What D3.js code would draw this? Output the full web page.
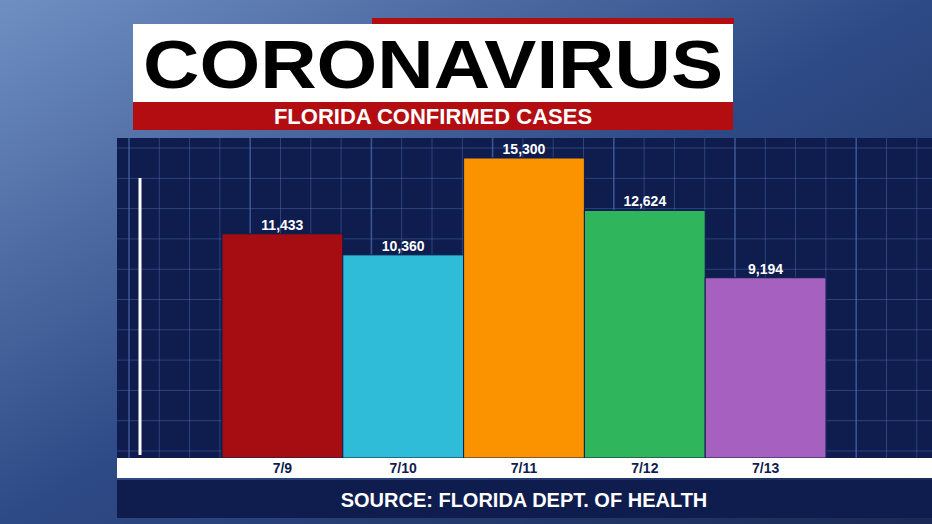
<!DOCTYPE html>
<html><head><meta charset="utf-8">
<script src="https://cdn.jsdelivr.net/npm/d3@7"></script>
<style>body{margin:0;overflow:hidden;background:#2a3f6e}</style>
</head><body>
<script>
const dates = ["7/9", "7/10", "7/11", "7/12", "7/13"];
const cases = [11433, 10360, 15300, 12624, 9194];
const colors = ["#a50d12", "#2fbcd8", "#fb9300", "#2fb55c", "#a660bf"];

const W = 932, H = 524;
const svg = d3.select("body").append("svg").attr("width", W).attr("height", H);
const defs = svg.append("defs");
const bg = defs.append("linearGradient").attr("id", "bg").attr("x1", 0).attr("y1", 0).attr("x2", 1).attr("y2", 1);
bg.append("stop").attr("offset", 0).attr("stop-color", "#6f8fc2");
bg.append("stop").attr("offset", 0.5).attr("stop-color", "#2e4a86");
bg.append("stop").attr("offset", 1).attr("stop-color", "#1a2a55");
svg.append("rect").attr("width", W).attr("height", H).attr("fill", "url(#bg)");

// title block
svg.append("rect").attr("x", 372).attr("y", 18).attr("width", 362).attr("height", 6).attr("fill", "#b30d12");
svg.append("rect").attr("x", 133).attr("y", 24).attr("width", 600).attr("height", 78).attr("fill", "#fff");
svg.append("text").attr("x", 433).attr("y", 88).attr("text-anchor", "middle")
    .attr("font-family", "Liberation Sans, Arial").attr("font-weight", "bold").attr("font-size", 68)
    .attr("textLength", 580).attr("lengthAdjust", "spacingAndGlyphs").attr("fill", "#000").text("CORONAVIRUS");
svg.append("rect").attr("x", 133).attr("y", 102).attr("width", 600).attr("height", 28).attr("fill", "#b30d12");
svg.append("text").attr("x", 433).attr("y", 124).attr("text-anchor", "middle")
    .attr("font-family", "Liberation Sans, Arial").attr("font-weight", "bold").attr("font-size", 22)
    .attr("fill", "#fff").text("FLORIDA CONFIRMED CASES");

// chart panel
const panel = {x: 117, y: 138, w: 815, h: 320};
svg.append("rect").attr("x", panel.x).attr("y", panel.y).attr("width", panel.w).attr("height", panel.h).attr("fill", "#0e1c4e");
const grid = svg.append("g").attr("stroke", "#4d6cb0").attr("stroke-opacity", 0.7);
for (let gx = panel.x + 12; gx < W; gx += 30.3)
    grid.append("line").attr("x1", gx).attr("x2", gx).attr("y1", panel.y).attr("y2", panel.y + panel.h)
        .attr("stroke-width", Math.round((gx - panel.x) / 30.3) % 4 === 0 ? 1.6 : 0.7);
for (let gy = panel.y + 10; gy < panel.y + panel.h; gy += 30.3)
    grid.append("line").attr("x1", panel.x).attr("x2", W).attr("y1", gy).attr("y2", gy).attr("stroke-width", 0.7);
svg.append("line").attr("x1", 140).attr("x2", 140).attr("y1", 178).attr("y2", 455).attr("stroke", "#fff").attr("stroke-width", 3);

const x = d3.scaleBand().domain(dates).range([222, 826]).padding(0);
const y = d3.scaleLinear().domain([0, 15300]).range([458, 158]);
const fmt = d3.format(",");

svg.selectAll("rect.bar").data(dates).join("rect").attr("class", "bar")
    .attr("x", d => x(d)).attr("width", x.bandwidth())
    .attr("y", (d, i) => y(cases[i])).attr("height", (d, i) => y(0) - y(cases[i]))
    .attr("fill", (d, i) => colors[i]).attr("stroke", "#0e1c4e").attr("stroke-width", 1);
svg.selectAll("text.val").data(dates).join("text").attr("class", "val")
    .attr("x", d => x(d) + x.bandwidth() / 2).attr("y", (d, i) => y(cases[i]) - 4)
    .attr("text-anchor", "middle").attr("font-family", "Liberation Sans, Arial").attr("font-weight", "bold")
    .attr("font-size", 14).attr("fill", "#fff").text((d, i) => fmt(cases[i]));

// axis strip
svg.append("rect").attr("x", panel.x).attr("y", 458).attr("width", panel.w).attr("height", 20).attr("fill", "#fff");
const ax = svg.append("g").attr("transform", "translate(0,458)")
    .call(d3.axisBottom(x).tickSize(0).tickPadding(5));
ax.select(".domain").remove();
ax.selectAll("text").attr("font-family", "Liberation Sans, Arial").attr("font-weight", "bold")
    .attr("font-size", 14).attr("fill", "#0e1c4e");

svg.append("rect").attr("x", panel.x).attr("y", 480).attr("width", panel.w).attr("height", 38).attr("fill", "#0e1c4e");
svg.append("text").attr("x", 524).attr("y", 507).attr("text-anchor", "middle")
    .attr("font-family", "Liberation Sans, Arial").attr("font-weight", "bold").attr("font-size", 20)
    .attr("fill", "#fff").text("SOURCE: FLORIDA DEPT. OF HEALTH");
</script>
</body></html>
